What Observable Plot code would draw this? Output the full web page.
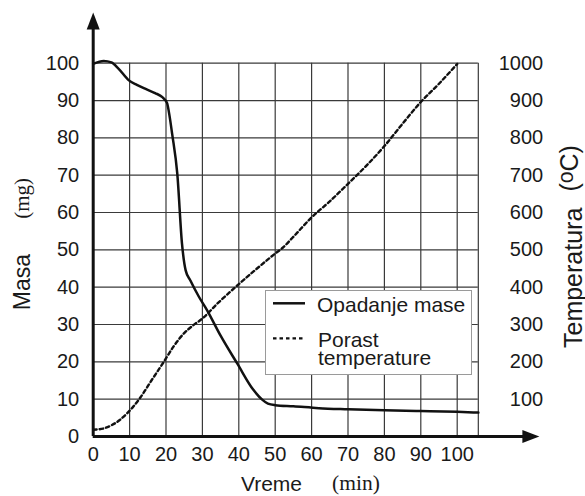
<!DOCTYPE html>
<html>
<head>
<meta charset="utf-8">
<script src="https://cdn.jsdelivr.net/npm/d3@7"></script>
<script src="https://cdn.jsdelivr.net/npm/@observablehq/plot@0.6"></script>
<style>
  html, body { margin: 0; padding: 0; background: #fff; }
  #wrap { position: relative; width: 585px; height: 496px; overflow: hidden; }
  #legend { position: absolute; left: 265px; top: 290px; width: 205px; height: 83px;
            border: 1px solid #9a9a9a; background: #fff; }
  #legend svg { position: absolute; left: 0; top: 0; }
</style>
</head>
<body>
<div id="wrap"></div>
<script>
// ---- data ----
const xTicks = [0, 10, 20, 30, 40, 50, 60, 70, 80, 90, 100];
const massTicks = [0, 10, 20, 30, 40, 50, 60, 70, 80, 90, 100];
const tempTicks = [100, 200, 300, 400, 500, 600, 700, 800, 900, 1000];
const gridRight = 105.8;      // right border of the grid (min)
const yArrowBase = 109;       // top of the mass axis (mg)
const xArrowBase = 117.9;     // end of the time axis (min)

const massTime = [0, 2.9, 5, 7, 9.8, 12, 14.4, 17, 19, 20.3, 20.8, 21.7, 23.1, 24.4, 25.4, 26.7, 29, 31.3, 35, 39.6, 44, 46.5, 48, 50, 55, 62, 70, 80, 90, 100, 105.8];
const massValue = [99.8, 100.6, 100.2, 98.5, 95.4, 94.2, 93.1, 92, 90.9, 89.3, 86.9, 81, 70.4, 51.6, 44.5, 41.8, 37.5, 33.8, 27, 19.5, 12.5, 9.8, 8.8, 8.4, 8.1, 7.6, 7.3, 7.0, 6.8, 6.6, 6.4];

const tempTime = [0, 3, 5, 7, 9.3, 11, 13, 16, 19.4, 22, 25, 27.5, 30, 34, 40, 45, 50, 52, 55, 60, 65, 70, 75, 80, 85, 90, 95, 100];
const tempValue = [18, 22, 30, 42, 62, 80, 105, 150, 200, 240, 277, 298, 316, 355, 408, 450, 490, 505, 535, 587, 630, 677, 725, 778, 838, 896, 945, 998];

const massData = massTime.map((t, i) => ({t, m: massValue[i]}));
const tempData = tempTime.map((t, i) => ({t, T: tempValue[i]}));

const arrowSymbol = {
  draw(ctx) {
    ctx.moveTo(0, -17);
    ctx.lineTo(6.5, 0);
    ctx.lineTo(-6.5, 0);
    ctx.closePath();
  }
};

const sans = "'Liberation Sans', Arial, sans-serif";
const serif = "'Liberation Serif', 'Times New Roman', serif";
const gridStroke = "#3a3a3a";
const title = {textAnchor: "middle", lineAnchor: "middle"};

const chart = Plot.plot({
  width: 585,
  height: 496,
  marginLeft: 92.7,
  marginRight: 128.3,
  marginTop: 62.7,
  marginBottom: 60,
  x: {domain: [0, 100]},
  y: {domain: [0, 100]},
  style: {fontFamily: sans, fontSize: "20px", color: "#1a1a1a", background: "#fff", overflow: "visible"},
  marks: [
    Plot.ruleX(xTicks.slice(1).concat([gridRight]), {y1: 0, y2: 100, stroke: gridStroke, strokeWidth: 1.2}),
    Plot.ruleY(massTicks.slice(1), {x1: 0, x2: gridRight, stroke: gridStroke, strokeWidth: 1.2}),
    Plot.line(tempData, {x: "t", y: d => d.T / 10, curve: "monotone-x", stroke: "#111", strokeWidth: 2.4, strokeDasharray: "3.5,3"}),
    Plot.line(massData, {x: "t", y: "m", curve: "monotone-x", stroke: "#111", strokeWidth: 2.5}),
    Plot.ruleX([0], {y1: 0, y2: yArrowBase + 0.5, stroke: "#111", strokeWidth: 3}),
    Plot.ruleY([0], {x1: 0, x2: xArrowBase + 0.5, stroke: "#111", strokeWidth: 3}),
    Plot.dot([{x: 0, y: yArrowBase}], {x: "x", y: "y", symbol: arrowSymbol, fill: "#111", stroke: null, r: 5}),
    Plot.dot([{x: xArrowBase, y: 0}], {x: "x", y: "y", symbol: arrowSymbol, fill: "#111", stroke: null, r: 5, rotate: 90}),
    Plot.axisY(massTicks, {tickSize: 0, tickPadding: 14, label: null, fontSize: 20}),
    Plot.axisX(xTicks, {tickSize: 0, tickPadding: 10, label: null, fontSize: 20}),
    Plot.text(tempTicks, {y: d => d / 10, text: d => String(d), frameAnchor: "right", dx: 86, textAnchor: "end", fontSize: 20}),
    Plot.text(["Masa"], {...title, text: d => d, frameAnchor: "left", dx: -70.7, dy: 32.2, rotate: -90, fontSize: 23}),
    Plot.text(["(mg)"], {...title, text: d => d, frameAnchor: "left", dx: -70.7, dy: -51.4, rotate: -90, fontSize: 21, fontFamily: serif}),
    Plot.text(["Temperatura"], {...title, text: d => d, frameAnchor: "right", dx: 116.3, dy: 28, rotate: -90, fontSize: 25}),
    Plot.text(["(oC)"], {...title, text: d => d, frameAnchor: "right", dx: 112.5, dy: -81.5, rotate: -90, fontSize: 25}),
    Plot.text(["Vreme"], {...title, text: d => d, frameAnchor: "bottom", dx: -3.7, dy: 48, fontSize: 21}),
    Plot.text(["(min)"], {...title, text: d => d, frameAnchor: "bottom", dx: 80.8, dy: 46.5, fontSize: 21.5, fontFamily: serif})
  ]
});

// raised "o" in the temperature unit
chart.querySelectorAll("text").forEach(t => {
  if (t.textContent === "(oC)") {
    t.textContent = "";
    const ns = "http://www.w3.org/2000/svg";
    const a = document.createElementNS(ns, "tspan"); a.textContent = "(";
    const b = document.createElementNS(ns, "tspan"); b.textContent = "o";
    b.setAttribute("font-size", "85%"); b.setAttribute("dy", "-0.22em");
    const c = document.createElementNS(ns, "tspan"); c.textContent = "C)";
    c.setAttribute("dy", "0.19em");
    t.append(a, b, c);
  }
});

const wrap = document.getElementById("wrap");
wrap.appendChild(chart);

// legend (overlaid inside the plot area)
const legend = document.createElement("div");
legend.id = "legend";
legend.innerHTML = `
<svg width="205" height="83" font-family="${sans}" font-size="21" fill="#1a1a1a">
  <line x1="7" x2="39" y1="12.3" y2="12.3" stroke="#111" stroke-width="2.5"/>
  <text x="51" y="20.7">Opadanje mase</text>
  <line x1="7" x2="39" y1="47.3" y2="47.3" stroke="#111" stroke-width="2.2" stroke-dasharray="3.5,3"/>
  <text x="52" y="55.7">Porast</text>
  <text x="52" y="74">temperature</text>
</svg>`;
wrap.appendChild(legend);
</script>
</body>
</html>
